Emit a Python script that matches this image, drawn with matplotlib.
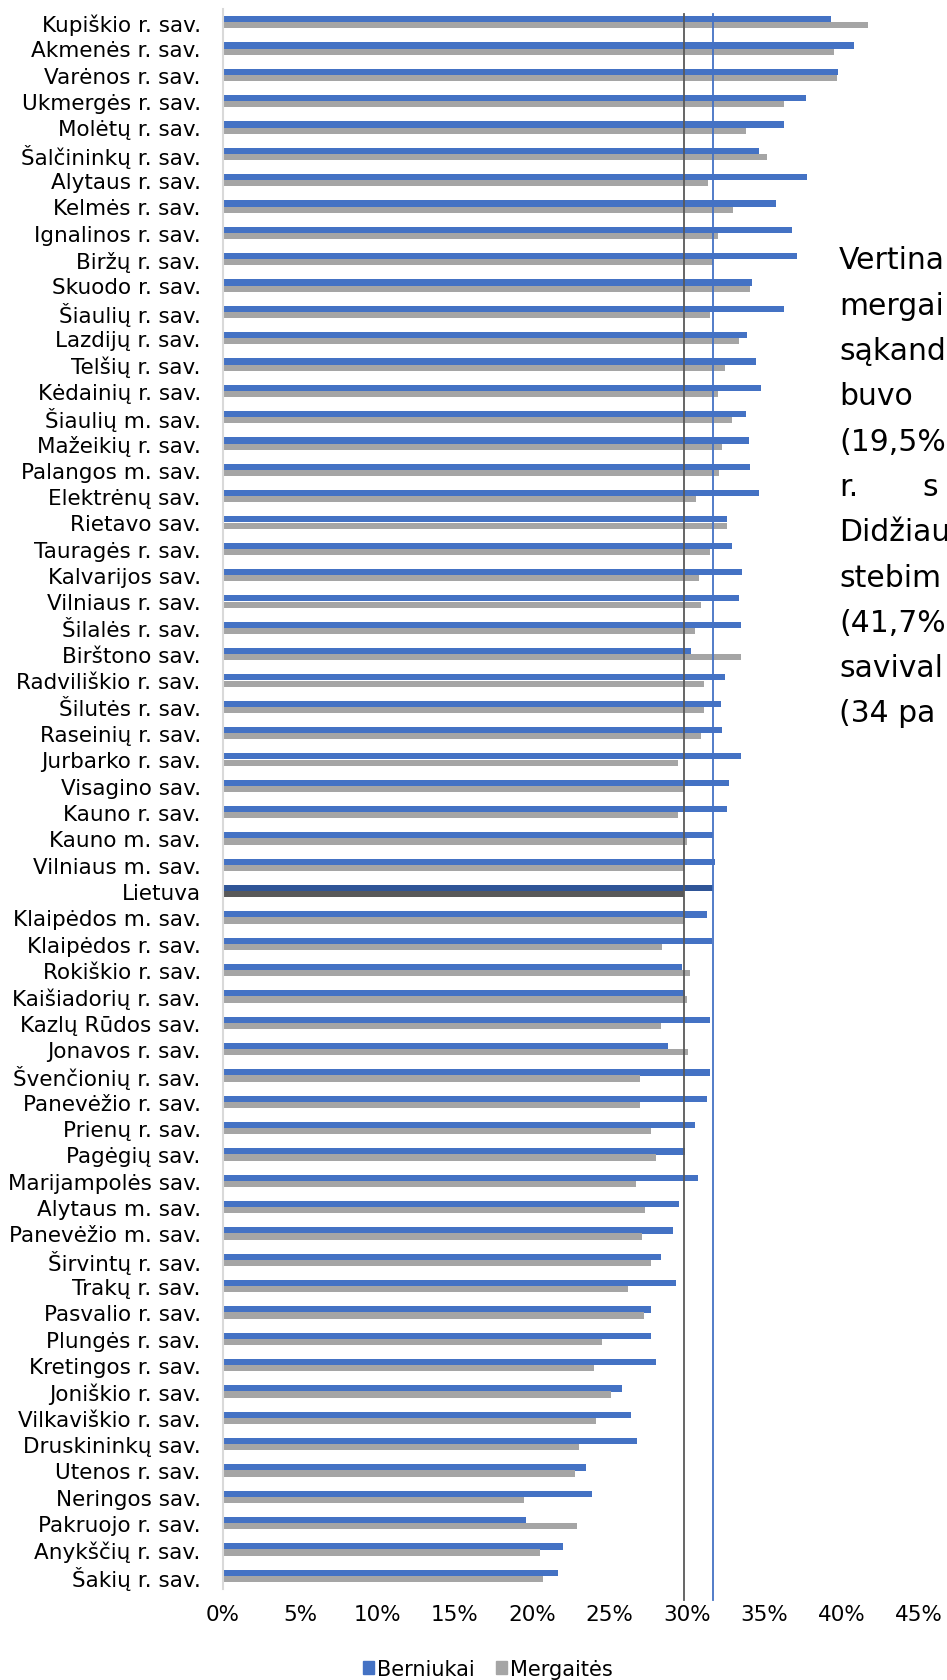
import numpy as np
import matplotlib
matplotlib.use("Agg")
import matplotlib.pyplot as plt
from matplotlib.patches import Patch

plt.rcParams['font.family'] = ['DejaVu Sans']

# savivaldybės, surikiuotos kaip diagramoje (Lietuva - vidurkis)
savivaldybes = [
    "Kupiškio r. sav.", "Akmenės r. sav.", "Varėnos r. sav.", "Ukmergės r. sav.",
    "Molėtų r. sav.", "Šalčininkų r. sav.", "Alytaus r. sav.", "Kelmės r. sav.",
    "Ignalinos r. sav.", "Biržų r. sav.", "Skuodo r. sav.", "Šiaulių r. sav.",
    "Lazdijų r. sav.", "Telšių r. sav.", "Kėdainių r. sav.", "Šiaulių m. sav.",
    "Mažeikių r. sav.", "Palangos m. sav.", "Elektrėnų sav.", "Rietavo sav.",
    "Tauragės r. sav.", "Kalvarijos sav.", "Vilniaus r. sav.", "Šilalės r. sav.",
    "Birštono sav.", "Radviliškio r. sav.", "Šilutės r. sav.", "Raseinių r. sav.",
    "Jurbarko r. sav.", "Visagino sav.", "Kauno r. sav.", "Kauno m. sav.",
    "Vilniaus m. sav.", "Lietuva", "Klaipėdos m. sav.", "Klaipėdos r. sav.",
    "Rokiškio r. sav.", "Kaišiadorių r. sav.", "Kazlų Rūdos sav.", "Jonavos r. sav.",
    "Švenčionių r. sav.", "Panevėžio r. sav.", "Prienų r. sav.", "Pagėgių sav.",
    "Marijampolės sav.", "Alytaus m. sav.", "Panevėžio m. sav.", "Širvintų r. sav.",
    "Trakų r. sav.", "Pasvalio r. sav.", "Plungės r. sav.", "Kretingos r. sav.",
    "Joniškio r. sav.", "Vilkaviškio r. sav.", "Druskininkų sav.", "Utenos r. sav.",
    "Neringos sav.", "Pakruojo r. sav.", "Anykščių r. sav.", "Šakių r. sav.",
]

berniukai = [
    39.3, 40.8, 39.8, 37.7, 36.3, 34.7, 37.8, 35.8, 36.8, 37.1,
    34.2, 36.3, 33.9, 34.5, 34.8, 33.8, 34.0, 34.1, 34.7, 32.6,
    32.9, 33.6, 33.4, 33.5, 30.3, 32.5, 32.2, 32.3, 33.5, 32.7,
    32.6, 31.7, 31.8, 31.7, 31.3, 31.6, 29.7, 29.9, 31.5, 28.8,
    31.5, 31.3, 30.5, 29.9, 30.7, 29.5, 29.1, 28.3, 29.3, 27.7,
    27.7, 28.0, 25.8, 26.4, 26.8, 23.5, 23.9, 19.6, 22.0, 21.7,
]

mergaites = [
    41.7, 39.5, 39.7, 36.3, 33.8, 35.2, 31.4, 33.0, 32.0, 31.7,
    34.1, 31.5, 33.4, 32.5, 32.0, 32.9, 32.3, 32.1, 30.6, 32.6,
    31.5, 30.8, 30.9, 30.5, 33.5, 31.1, 31.1, 30.9, 29.4, 29.8,
    29.4, 30.0, 29.8, 29.8, 29.8, 28.4, 30.2, 30.0, 28.3, 30.1,
    27.0, 27.0, 27.7, 28.0, 26.7, 27.3, 27.1, 27.7, 26.2, 27.2,
    24.5, 24.0, 25.1, 24.1, 23.0, 22.8, 19.5, 22.9, 20.5, 20.7,
]

# šalies vidurkiai (vertikalios linijos)
lt_berniukai = 31.7
lt_mergaites = 29.8

# matoma teksto dalis dešinėje
teksto_eilutes = [
    "Vertina", "mergai", "sąkand", "buvo", "(19,5%", "r.",
    "Didžiau", "stebim", "(41,7%", "savival", "(34 pa",
]

W, H = 947, 1681
fig = plt.figure(figsize=(W / 100, H / 100), dpi=100)
ax = fig.add_axes([223 / W, 1 - 1590 / H, (918.7 - 223) / W, 1580 / H])

y = np.arange(len(savivaldybes))
h = 0.24
spalva_b = ['#2F5597' if s == "Lietuva" else '#4472C4' for s in savivaldybes]
spalva_m = ['#595959' if s == "Lietuva" else '#A5A5A5' for s in savivaldybes]

ax.barh(y - h / 2, berniukai, height=h, color=spalva_b, linewidth=0)
ax.barh(y + h / 2, mergaites, height=h, color=spalva_m, linewidth=0)

# vidurkio linijos
ax.plot([lt_mergaites, lt_mergaites], [-0.31, 59.9], color='#595959', lw=1.3, clip_on=False)
ax.plot([lt_berniukai, lt_berniukai], [-0.31, 59.9], color='#4472C4', lw=1.3, clip_on=False)

ax.set_xlim(0, 45)
ax.set_ylim(len(savivaldybes) - 0.5, -0.5)
ax.set_xticks(np.arange(0, 46, 5))
ax.set_xticklabels([f"{v}%" for v in range(0, 46, 5)])
ax.set_yticks(y)
ax.set_yticklabels(savivaldybes)
ax.tick_params(axis='x', length=0, pad=11, labelsize=15.5, colors='black')
ax.tick_params(axis='y', length=0, pad=16, labelsize=15.5)

for s in ['top', 'right', 'bottom']:
    ax.spines[s].set_visible(False)
ax.spines['left'].set_color('#D9D9D9')
ax.spines['left'].set_linewidth(1.5)

handles = [Patch(color='#4472C4', label='Berniukai'),
           Patch(color='#A5A5A5', label='Mergaitės')]
fig.legend(handles=handles, loc='center', bbox_to_anchor=(488 / W, 1 - 1670 / H),
           ncol=2, frameon=False, fontsize=15, handlelength=0.55, handleheight=0.55,
           handletextpad=0.15, columnspacing=1.0)

# tekstas dešinėje
for i, eil in enumerate(teksto_eilutes):
    yy = 1 - (261 + i * 45.3) / H
    fig.text(839 / W, yy, eil, fontsize=21.5, va='center', ha='left')
fig.text(922 / W, 1 - (261 + 5 * 45.3) / H, "s", fontsize=21.5, va='center', ha='left')

fig.savefig("out.png", dpi=100)
